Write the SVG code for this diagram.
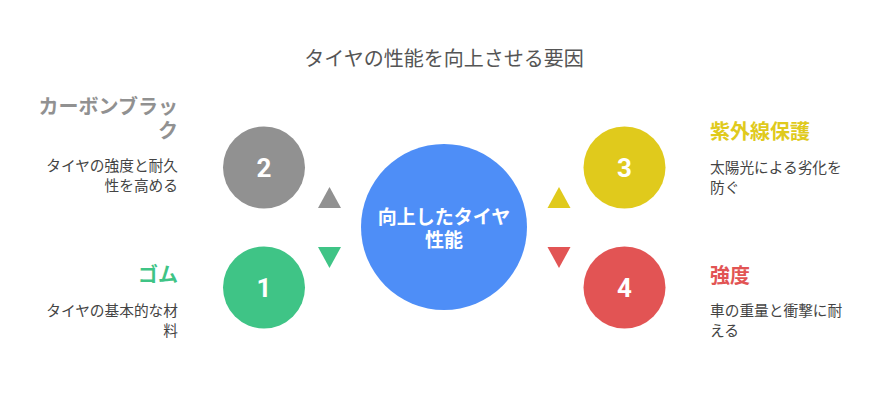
<svg xmlns="http://www.w3.org/2000/svg" width="888" height="420" viewBox="0 0 888 420">
<style>
text{font-family:"Noto Sans CJK JP","Noto Sans",sans-serif;}
.title{font-size:20px;fill:#555555;text-anchor:middle;}
.head{font-size:20px;font-weight:bold;}
.desc{font-size:14.7px;fill:#444444;}
.num{font-size:26px;font-weight:bold;fill:#ffffff;text-anchor:middle;font-family:"Roboto","Liberation Sans",sans-serif;}
.ctr{font-size:19px;font-weight:bold;fill:#ffffff;text-anchor:middle;}
.r{text-anchor:end;}
</style>
<rect width="888" height="420" fill="#ffffff"/>
<text class="title" x="444" y="66">タイヤの性能を向上させる要因</text>
<g id="connectors">
<polygon points="329.5,187 341,208 318,208" fill="#919191"/>
<polygon points="318,247 341,247 329.5,268" fill="#3fc486"/>
<polygon points="559,187 570.5,208 547.5,208" fill="#e0ca1c"/>
<polygon points="547.5,247 570.5,247 559,268" fill="#e25454"/>
</g>
<g id="center">
<circle cx="444" cy="227" r="83" fill="#4e8ef7"/>
<text class="ctr" x="444" y="224">向上したタイヤ<tspan x="444" dy="23">性能</tspan></text>
</g>
<g id="node2">
<circle cx="264" cy="167.5" r="41" fill="#919191"/>
<text class="num" x="264" y="177">2</text>
<text class="head r" x="178" y="114" fill="#919191">カーボンブラッ<tspan x="178" dy="24">ク</tspan></text>
<text class="desc r" x="178" y="171">タイヤの強度と耐久<tspan x="178" dy="20">性を高める</tspan></text>
</g>
<g id="node1">
<circle cx="264" cy="287.5" r="41" fill="#3fc486"/>
<text class="num" x="264" y="297">1</text>
<text class="head r" x="178" y="282" fill="#3fc486">ゴム</text>
<text class="desc r" x="178" y="316">タイヤの基本的な材<tspan x="178" dy="20">料</tspan></text>
</g>
<g id="node3">
<circle cx="624.5" cy="167.5" r="41" fill="#e0ca1c"/>
<text class="num" x="624.5" y="177">3</text>
<text class="head" x="710" y="139" fill="#e0ca1c">紫外線保護</text>
<text class="desc" x="710" y="173">太陽光による劣化を<tspan x="710" dy="20">防ぐ</tspan></text>
</g>
<g id="node4">
<circle cx="624.5" cy="287.5" r="41" fill="#e25454"/>
<text class="num" x="624.5" y="297">4</text>
<text class="head" x="710" y="283" fill="#e25454">強度</text>
<text class="desc" x="710" y="316">車の重量と衝撃に耐<tspan x="710" dy="20">える</tspan></text>
</g>
</svg>
